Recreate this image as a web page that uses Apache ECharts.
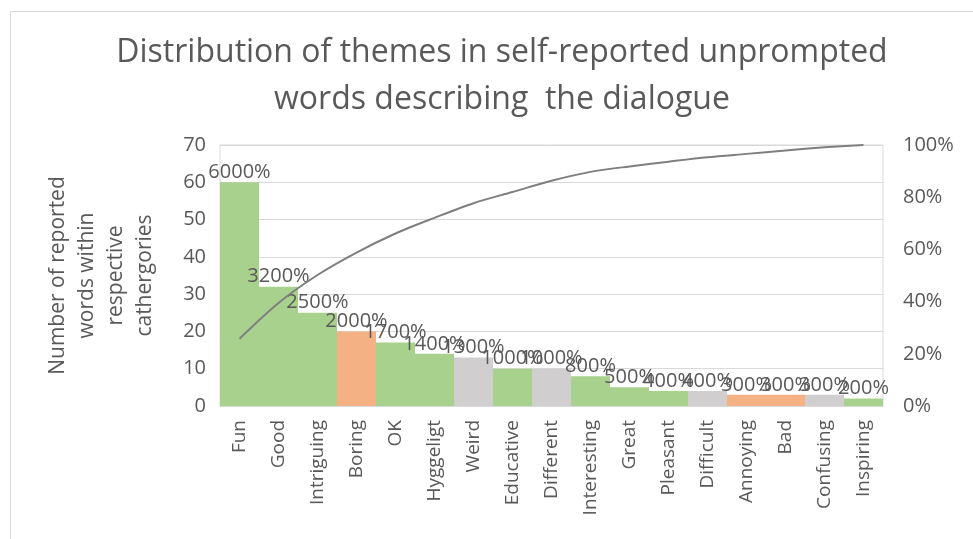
<!DOCTYPE html>
<html>
<head>
<meta charset="utf-8">
<script src="https://cdn.jsdelivr.net/npm/echarts@6/dist/echarts.min.js"></script>
<style>
  html, body { margin: 0; padding: 0; background: #fff; }
  #chart { width: 973px; height: 539px; }
</style>
</head>
<body>
<div id="chart"></div>
<script>
  // data
  var categories = ['Fun', 'Good', 'Intriguing', 'Boring', 'OK', 'Hyggeligt', 'Weird', 'Educative', 'Different',
    'Interesting', 'Great', 'Pleasant', 'Difficult', 'Annoying', 'Bad', 'Confusing', 'Inspiring']
  var counts = [60, 32, 25, 20, 17, 14, 13, 10, 10, 8, 5, 4, 4, 3, 3, 3, 2]
  var cumulative = [0.258, 0.395, 0.502, 0.588, 0.661, 0.721, 0.777, 0.820, 0.863, 0.897, 0.918, 0.936, 0.953, 0.966, 0.979, 0.991, 1.0]
  // theme of each word: p = positive, n = negative, u = neutral
  var themes = ['p', 'p', 'p', 'n', 'p', 'p', 'u', 'p', 'u', 'p', 'p', 'p', 'u', 'n', 'n', 'u', 'p']
  var leftTicks = [0, 70, 10]
  var rightTicks = [0, 1, 0.2]

  var themeColor = { p: '#A9D18E', n: '#F4B183', u: '#D0CECE' }
  var txt = '#595959'
  var font = 'Open Sans'

  var chart = echarts.init(document.getElementById('chart'))
  chart.setOption({
    animation: false,
    textStyle: { fontFamily: font },
    graphic: [
      {
        type: 'polyline',
        shape: { points: [[973, 11.5], [10.5, 11.5], [10.5, 539]] },
        style: { stroke: '#d9d9d9', lineWidth: 1, fill: null }
      }
    ],
    title: {
      text: 'Distribution of themes in self-reported unprompted\nwords describing  the dialogue',
      left: 497,
      textAlign: 'center',
      top: 24,
      textStyle: { fontFamily: font, fontWeight: 'normal', fontSize: 32, color: txt, lineHeight: 47 }
    },
    grid: {
      left: 220,
      right: 90,
      top: 145,
      bottom: 133,
      show: true,
      borderColor: '#d9d9d9',
      borderWidth: 1
    },
    xAxis: {
      type: 'category',
      data: categories,
      axisLine: { lineStyle: { color: '#d9d9d9' } },
      axisTick: { show: false },
      axisLabel: { rotate: 90, color: txt, fontSize: 19, margin: 14, interval: 0, fontFamily: font }
    },
    yAxis: [
      {
        type: 'value',
        min: leftTicks[0],
        max: leftTicks[1],
        interval: leftTicks[2],
        name: 'Number of reported\nwords within\nrespective\ncathergories',
        nameLocation: 'middle',
        nameGap: 60,
        nameTextStyle: { color: txt, fontSize: 21, lineHeight: 29, fontFamily: font },
        axisLine: { show: false },
        axisTick: { show: false },
        splitLine: { lineStyle: { color: '#d9d9d9' } },
        axisLabel: { color: txt, fontSize: 20, margin: 14, fontFamily: font }
      },
      {
        type: 'value',
        min: rightTicks[0],
        max: rightTicks[1],
        interval: rightTicks[2],
        axisLine: { show: false },
        axisTick: { show: false },
        splitLine: { show: false },
        axisLabel: {
          color: txt, fontSize: 20, margin: 20, fontFamily: font,
          formatter: function (v) { return Math.round(v * 100) + '%' }
        }
      }
    ],
    series: [
      {
        type: 'bar',
        barCategoryGap: 0,
        data: counts.map(function (v, i) {
          return { value: v, itemStyle: { color: themeColor[themes[i]] } }
        }),
        label: {
          show: true,
          position: 'top',
          distance: 0,
          color: txt,
          fontSize: 20,
          fontFamily: font,
          formatter: function (p) { return (p.value * 100) + '%' }
        }
      },
      {
        type: 'line',
        yAxisIndex: 1,
        smooth: 0.3,
        showSymbol: false,
        data: cumulative,
        lineStyle: { color: '#7f7f7f', width: 2 },
        itemStyle: { color: '#7f7f7f' },
        z: 3
      }
    ]
  })
</script>
</body>
</html>
